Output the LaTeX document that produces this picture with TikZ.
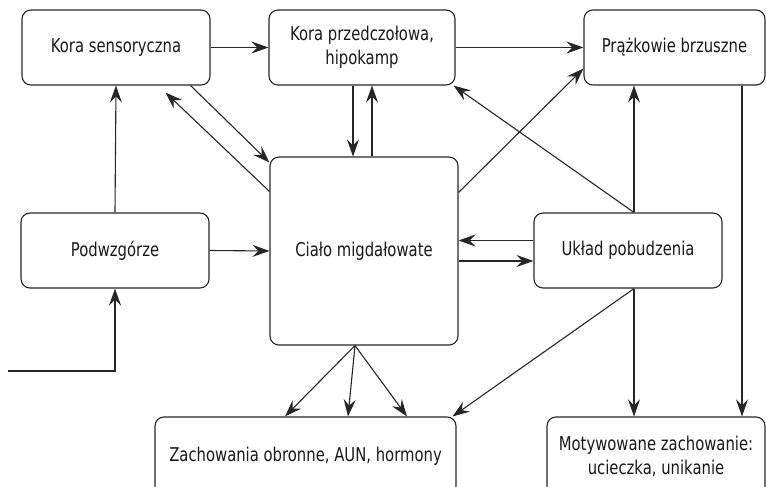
\documentclass[tikz,border=0pt]{standalone}
\usepackage{fontspec}
\setmainfont[FakeStretch=0.78]{DejaVu Sans}
\usetikzlibrary{arrows.meta,positioning,calc}

\begin{document}
\begin{tikzpicture}[x=1pt,y=-1pt,
  line width=1.1pt, draw=black!85,
  box/.style={rectangle,rounded corners=9pt,draw=black!85,line width=1.1pt,
    align=center,inner sep=0pt,text=black!90,font=\fontsize{19}{24}\selectfont},
  arr/.style={-{Stealth[length=17pt,width=12pt,inset=6pt]},line width=1.1pt,draw=black!85}]
\useasboundingbox (0,0) rectangle (766,487);

% top row
\node[box,minimum width=188pt,minimum height=75pt] (ks) at (116,47.5) {Kora sensoryczna};
\node[box,minimum width=186pt,minimum height=75pt] (kp) at (362,47.5) {Kora przedczołowa,\\hipokamp};
\node[box,minimum width=181pt,minimum height=75pt] (pb) at (674.5,47.5) {Prążkowie brzuszne};

% middle row
\node[box,minimum width=188pt,minimum height=75pt] (pw) at (115,250.5) {Podwzgórze};
\node[box,minimum width=188pt,minimum height=188pt] (cm) at (364,251) {Ciało migdałowate};
\node[box,minimum width=188pt,minimum height=75pt] (up) at (628,250.5) {Układ pobudzenia};

% bottom row
\node[box,minimum width=301pt,minimum height=78pt] (zo) at (305.5,456) {Zachowania obronne, AUN, hormony};
\node[box,minimum width=218pt,minimum height=78pt] (mz) at (656,456) {Motywowane zachowanie:\\ucieczka, unikanie};

% input
\coordinate (in) at (8,371);
\draw[arr,line width=2.2pt] (in) -| (pw.south);

% arrows between boxes
\draw[arr] (ks.east) -- (kp.west);
\draw[arr] (kp.east) -- (pb.west);
\draw[arr] (pw.north) -- (ks.south);
\draw[arr] (pw.east) -- (cm.west);
\draw[arr] ([xshift=-20pt]ks.south east) -- ([yshift=-6pt]cm.north west);
\draw[arr] ([yshift=-35pt]cm.north west) -- ([xshift=-45pt,yshift=-7pt]ks.south east);
\draw[arr] ([xshift=-9pt]kp.south) -- ([xshift=-11pt]cm.north);
\draw[arr] ([xshift=8pt]cm.north) -- ([xshift=10pt]kp.south);
\draw[arr] ([yshift=-36pt]cm.north east) -- ([yshift=17pt]pb.south west);
\draw[arr] ([xshift=6pt]up.north) -- ([xshift=-2pt]kp.south east);
\draw[arr] ([xshift=6pt]up.north) -- ([xshift=6pt]up.north |- pb.south);
\draw[arr] ([yshift=10pt]up.west) -- ([yshift=10pt]up.west -| cm.east);
\draw[arr] ([yshift=-10pt]cm.east) -- ([yshift=-10pt]cm.east -| up.west);
\draw[arr] ([xshift=67.5pt]pb.south) -- ([xshift=67.5pt]pb.south |- mz.north);
\draw[arr] ([xshift=6pt]up.south) -- ([xshift=6pt]up.south |- mz.north);
\draw[arr] ([xshift=6pt]up.south) -- ([xshift=-4pt]zo.north east);

% amygdala to defence
\foreach \dx in {-20.5,42.5,101.5}
  \draw[arr] ([xshift=-9pt]cm.south) -- ([xshift=\dx pt]zo.north);
\end{tikzpicture}
\end{document}
